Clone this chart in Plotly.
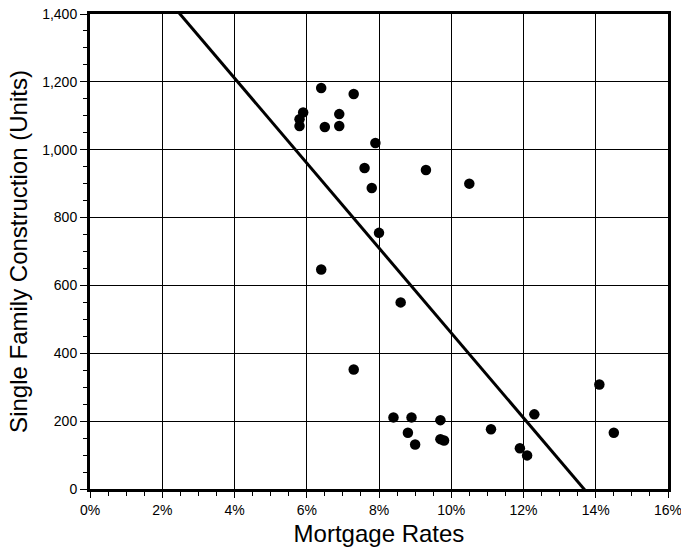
import numpy as np
import plotly.graph_objects as go

# Mortgage rate (%) vs single family construction (units)
mortgage_rates = [5.8, 5.8, 5.9, 6.4, 6.5, 6.9, 6.9, 7.3, 7.9, 7.6, 7.8, 9.3, 10.5, 8.0, 6.4,
                  8.6, 7.3, 8.4, 8.9, 9.7, 8.8, 9.0, 9.7, 9.8, 11.1, 11.9, 12.1, 12.3, 14.1, 14.5]
construction = [1090, 1070, 1110, 1182, 1067, 1105, 1070, 1164, 1020, 946, 887, 940, 900, 755, 647,
                550, 352, 211, 211, 203, 166, 131, 147, 143, 176, 120, 99, 220, 308, 166]

x_ticks = [0, 2, 4, 6, 8, 10, 12, 14, 16]
x_tick_labels = ["0%", "2%", "4%", "6%", "8%", "10%", "12%", "14%", "16%"]
y_ticks = [0, 200, 400, 600, 800, 1000, 1200, 1400]
y_tick_labels = ["0", "200", "400", "600", "800", "1,000", "1,200", "1,400"]

# Least-squares trend line
slope, intercept = np.polyfit(mortgage_rates, construction, 1)
line_x = np.array([0, 16])
line_y = intercept + slope * line_x

fig = go.Figure()
fig.add_trace(go.Scatter(
    x=line_x, y=line_y, mode="lines",
    line=dict(color="black", width=3),
    hoverinfo="skip", showlegend=False,
))
fig.add_trace(go.Scatter(
    x=mortgage_rates, y=construction, mode="markers",
    marker=dict(color="black", size=10.5),
    showlegend=False,
))

font = "Liberation Sans, Arial, sans-serif"
fig.update_layout(
    width=681, height=548,
    margin=dict(l=90, r=13, t=14, b=59),
    paper_bgcolor="white", plot_bgcolor="white",
    font=dict(family=font, color="black"),
    xaxis=dict(
        range=[0, 16], tickvals=x_ticks, ticktext=x_tick_labels,
        automargin=False, ticklabeloverflow="allow",
        showgrid=True, gridcolor="black", gridwidth=1,
        showline=True, linecolor="black", linewidth=3, mirror=True,
        ticks="outside", ticklen=6, tickwidth=1, tickcolor="black",
        minor=dict(dtick=0.5, ticks="outside", ticklen=4, tickcolor="black", showgrid=False),
        tickfont=dict(size=14), zeroline=False,
        title=dict(text="Mortgage Rates", font=dict(size=24), standoff=9),
    ),
    yaxis=dict(
        range=[0, 1400], tickvals=y_ticks, ticktext=y_tick_labels,
        automargin=False, ticklabeloverflow="allow",
        showgrid=True, gridcolor="black", gridwidth=1,
        showline=True, linecolor="black", linewidth=3, mirror=True,
        ticks="outside", ticklen=7, tickwidth=1, tickcolor="black",
        minor=dict(dtick=50, ticks="outside", ticklen=4, tickcolor="black", showgrid=False),
        tickfont=dict(size=14), zeroline=False,
        title=dict(text="Single Family Construction (Units)", font=dict(size=24), standoff=8),
    ),
)

fig.write_html("out.html")
